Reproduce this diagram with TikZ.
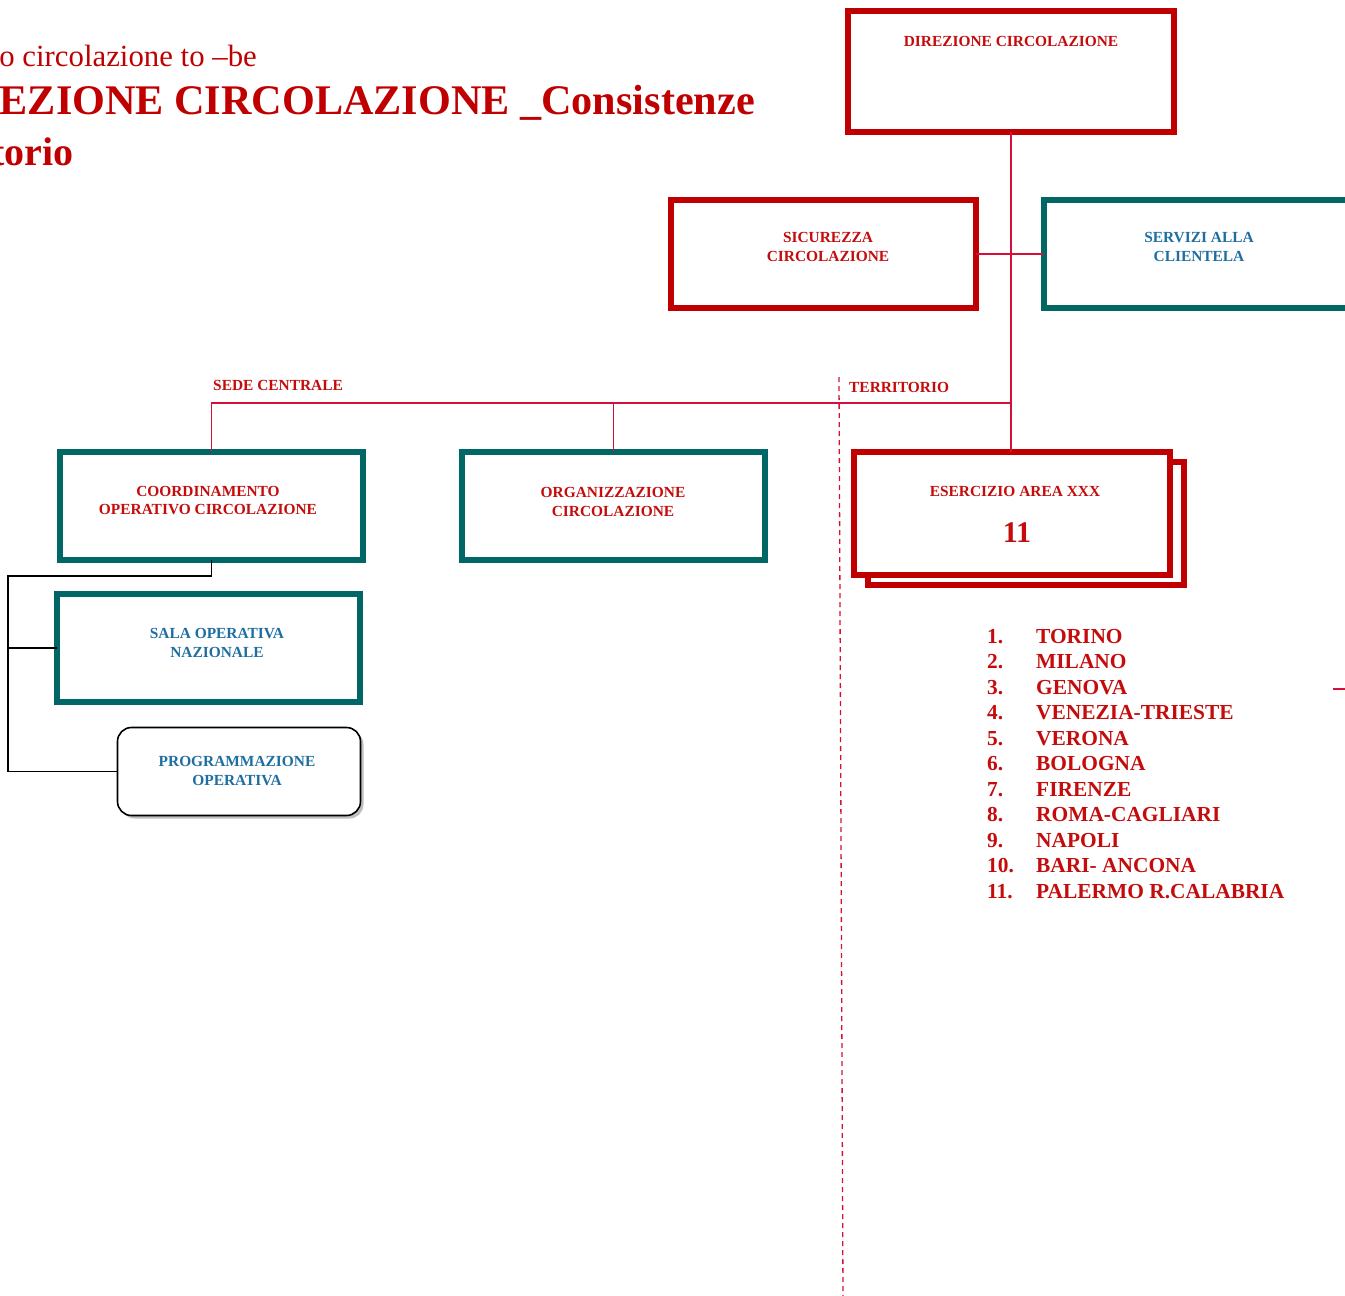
\documentclass[tikz,border=0pt]{standalone}
\usepackage{fontspec}
\setmainfont{Liberation Serif}
\usetikzlibrary{shadows}
\definecolor{boxred}{RGB}{192,0,0}
\definecolor{txtred}{RGB}{196,12,12}
\definecolor{tealbox}{RGB}{0,102,102}
\definecolor{txtblue}{RGB}{30,110,160}
\definecolor{linkred}{RGB}{212,16,58}
\begin{document}
\begin{tikzpicture}[x=1pt,y=-1pt,
  box/.style={draw, line width=6pt, inner sep=0pt, outer sep=0pt, fill=white},
  boxlabel/.style={font=\bfseries\fontsize{15.4}{18.5}\selectfont, align=center, inner sep=0pt},
  lbl/.style={font=\bfseries\fontsize{15.4}{18}\selectfont, text=txtred, inner sep=0pt},
  conn/.style={draw=linkred, line width=1.3pt},
  blk/.style={draw=black, line width=1.5pt},
  listtxt/.style={font=\bfseries\fontsize{21.4}{25}\selectfont, text=txtred, inner sep=0pt, anchor=base west}
]
\useasboundingbox (0,0) rectangle (1345,1296);
\clip (0,0) rectangle (1345,1296);

% title
\node[anchor=base east, inner sep=0pt, font=\fontsize{30.8}{30.8}\selectfont, text=boxred] (t1) at (257,66) {o circolazione to –be};
\node[anchor=base east, inner sep=0pt, font=\bfseries\fontsize{42.2}{42.2}\selectfont, text=boxred] (t2) at (755,114) {EZIONE CIRCOLAZIONE \_Consistenze};
\node[anchor=base east, inner sep=0pt, font=\bfseries\fontsize{40}{40}\selectfont, text=boxred] (t3) at (74,165) {torio};

% dashed separator
\coordinate (dtop) at (839,377);
\coordinate (dbot) at (843,1296);
\draw[draw=linkred, line width=1.3pt, dash pattern=on 5pt off 4pt] (dtop) -- (dbot);

% boxes
\node[box, draw=boxred, minimum width=326pt, minimum height=121pt] (dir) at (1011,71.5) {};
\node[boxlabel, text=txtred] (dirt) at (1011,41) {DIREZIONE CIRCOLAZIONE};

\node[box, draw=boxred, minimum width=305pt, minimum height=108pt] (sic) at (823.5,254) {};
\node[boxlabel, text=txtred] (sict) at (828,247) {SICUREZZA\\CIRCOLAZIONE};

\node[box, draw=tealbox, minimum width=310pt, minimum height=108pt] (ser) at (1199,254) {};
\node[boxlabel, text=txtblue] (sert) at (1199,247) {SERVIZI ALLA\\CLIENTELA};

\node[box, draw=tealbox, minimum width=303pt, minimum height=108pt] (coo) at (211.5,506) {};
\node[boxlabel, text=txtred] (coot) at (208,500.5) {COORDINAMENTO\\OPERATIVO CIRCOLAZIONE};

\node[box, draw=tealbox, minimum width=303pt, minimum height=108pt] (org) at (613.5,506) {};
\node[boxlabel, text=txtred] (orgt) at (613,502) {ORGANIZZAZIONE\\CIRCOLAZIONE};

\node[box, draw=tealbox, minimum width=303pt, minimum height=108pt] (sala) at (208.5,648) {};
\node[boxlabel, text=txtblue] (salat) at (217,643) {SALA OPERATIVA\\NAZIONALE};

\node[box, draw=boxred, minimum width=316pt, minimum height=123pt] (eseb) at (1026,523.5) {};
\node[box, draw=boxred, minimum width=316pt, minimum height=123pt] (ese) at (1012,513.5) {};
\node[boxlabel, text=txtred] (eset) at (1015,491) {ESERCIZIO AREA XXX};
\node[inner sep=0pt, font=\bfseries\fontsize{30}{30}\selectfont, text=txtred] (esen) at (1017,533) {11};

\node[draw=black, line width=1.6pt, rounded corners=14pt, minimum width=243pt, minimum height=88pt, fill=white, inner sep=0pt, outer sep=0pt,
  drop shadow={shadow xshift=3pt, shadow yshift=-3pt, opacity=0.25, fill=black}] (prog) at (239,771.5) {};
\node[boxlabel, text=txtblue] (progt) at (237,771) {PROGRAMMAZIONE\\OPERATIVA};

% red connectors
\coordinate (bus) at (1011,403);
\draw[conn] (dir.south) -- (dir.south |- ese.north);
\draw[conn] (sic.east) -- (ser.west);
\draw[conn] (coo.north) |- (bus);
\draw[conn] (org.north) -- (org.north |- bus);

% labels
\node[lbl, anchor=west] (sede) at (213,385) {SEDE CENTRALE};
\node[lbl, anchor=west] (terr) at (849,387) {TERRITORIO};

% black connectors
\coordinate (bl1) at (8,576);
\draw[blk] (coo.south) -- (coo.south |- bl1) -- (bl1) |- (prog.west);
\draw[blk] (bl1 |- sala.west) -- (sala.west);

% list
\foreach \name [count=\i] in {TORINO,MILANO,GENOVA,VENEZIA-TRIESTE,VERONA,BOLOGNA,FIRENZE,ROMA-CAGLIARI,NAPOLI,BARI- ANCONA,PALERMO R.CALABRIA}{
  \node[listtxt] (num\i) at (987,{643+25.5*(\i-1)}) {\i.};
  \node[listtxt] (city\i) at (1036,{643+25.5*(\i-1)}) {\name};
}

% small dash at right edge
\coordinate (sd1) at (1333,689);
\coordinate (sd2) at (1345,689);
\draw[draw=linkred, line width=1.5pt] (sd1) -- (sd2);
\end{tikzpicture}
\end{document}
